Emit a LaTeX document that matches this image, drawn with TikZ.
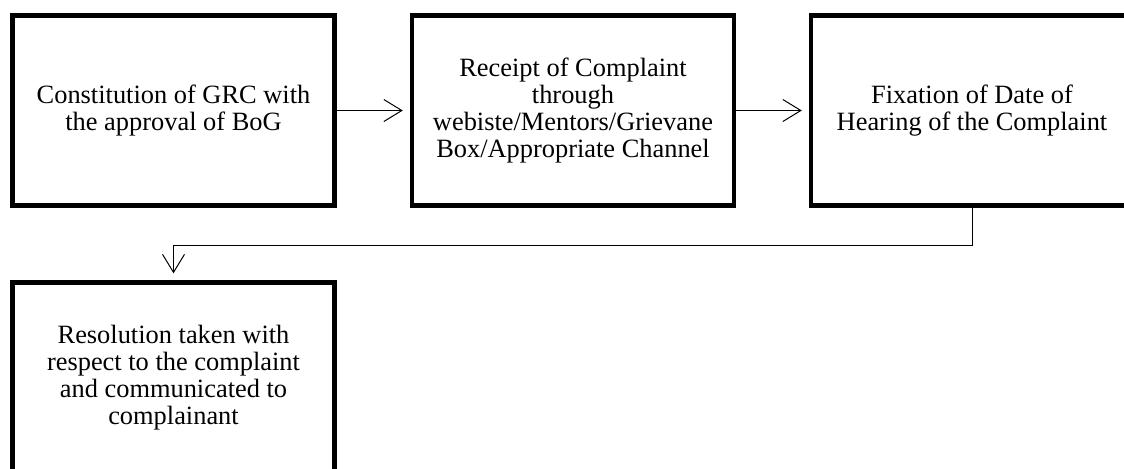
\documentclass[tikz,border=0pt]{standalone}
\usepackage{fontspec}
\setmainfont{Liberation Serif}
\usepackage{tikz}
\usetikzlibrary{positioning, arrows.meta, calc}

\begin{document}
\begin{tikzpicture}[x=0.5pt, y=-0.5pt,
    stagebox/.style={draw, line width=2.2pt, minimum width=161pt, minimum height=95pt, align=center, font=\fontsize{13.2}{13.4}\selectfont, inner sep=0pt},
    flow/.style={line width=0.5pt, -{Straight Barb[length=9pt, width=11pt, line width=0.5pt]}, shorten >=3.5pt}]
    \useasboundingbox (0,0) rectangle (1124,468);
    \node[stagebox] (grc) at (173.5,110.5) {Constitution of GRC with\\the approval of BoG};
    \node[stagebox] (receipt) at (573,110.5) {Receipt of Complaint\\through\\webiste/Mentors/Grievane\\Box/Appropriate Channel};
    \node[stagebox] (fix) at (972,110.5) {Fixation of Date of\\Hearing of the Complaint};
    \node[stagebox] (res) at (173.5,377.5) {Resolution taken with\\respect to the complaint\\and communicated to\\complainant};
    \coordinate (bend) at (173.5,245);
    \draw[flow] (grc) -- (receipt);
    \draw[flow] (receipt) -- (fix);
    \draw[flow] (fix.south) |- (bend) -- (res.north);
\end{tikzpicture}
\end{document}
